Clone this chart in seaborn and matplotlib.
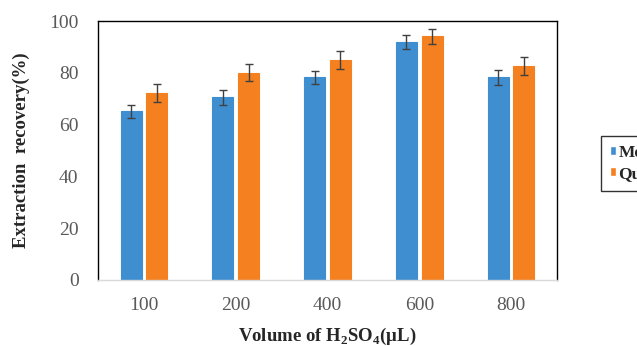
import matplotlib
matplotlib.use("Agg")
import matplotlib.pyplot as plt
import seaborn as sns
import pandas as pd

volumes = ["100", "200", "400", "600", "800"]
series_names = ["Morphine", "Quinine"]
series1_values = [65.1, 70.5, 78.2, 91.9, 78.2]
series2_values = [72.3, 80.1, 85.0, 94.2, 82.7]
series1_err = [2.5, 2.8, 2.6, 2.6, 2.8]
series2_err = [3.5, 3.2, 3.4, 2.9, 3.5]
colors = ["#3f8fd0", "#f58020"]

sns.set_theme(style="white")
plt.rcParams["font.family"] = ["Liberation Serif", "DejaVu Serif"]
plt.rcParams["mathtext.fontset"] = "custom"
plt.rcParams["mathtext.rm"] = "Liberation Serif:bold"
plt.rcParams["mathtext.bf"] = "Liberation Serif:bold"

df = pd.DataFrame({
    "Volume": volumes * 2,
    "Recovery": series1_values + series2_values,
    "Series": [series_names[0]] * 5 + [series_names[1]] * 5,
})

fig = plt.figure(figsize=(6.37, 3.46), dpi=100)
ax = fig.add_axes([98 / 637, 1 - 280 / 346, (557 - 98) / 637, (280 - 21) / 346])

sns.barplot(data=df, x="Volume", y="Recovery", hue="Series", order=volumes,
            hue_order=series_names, palette=colors, width=0.56, gap=0.18,
            errorbar=None, ax=ax, legend=True, saturation=1)

errs = [series1_err, series2_err]
for cont, err in zip(ax.containers, errs):
    xs = [p.get_x() + p.get_width() / 2 for p in cont.patches]
    ys = [p.get_height() for p in cont.patches]
    for p in cont.patches:
        p.set_edgecolor(p.get_facecolor())
        p.set_linewidth(0.8)
    ax.errorbar(xs, ys, yerr=err, fmt="none", ecolor="#404040",
                elinewidth=1.0, capsize=3, capthick=1.0, zorder=5)

ax.set_ylim(0, 100)
ax.set_yticks([0, 20, 40, 60, 80, 100])
ax.set_xlim(-0.5, 4.5)
ax.tick_params(axis="both", length=0, labelsize=14, labelcolor="#595959")
ax.tick_params(axis="x", pad=12)
ax.tick_params(axis="y", pad=14)
for s in ["left", "top", "right"]:
    ax.spines[s].set_color("#000000")
    ax.spines[s].set_linewidth(1.0)
ax.spines["bottom"].set_color("#d9d9d9")
ax.spines["bottom"].set_linewidth(1.0)

ax.set_ylabel("Extraction  recovery(%)", fontsize=13.5, fontweight="bold", labelpad=14)
ax.set_xlabel("Volume of H$_2$SO$_4$(\u03bcL)", fontsize=13.5, fontweight="bold", labelpad=9)

handles, labels = ax.get_legend_handles_labels()
ax.get_legend().remove()
leg = fig.legend(handles, labels, loc="upper left",
                 bbox_to_anchor=(601 / 637, 1 - 136 / 346), borderaxespad=0,
                 frameon=True, fancybox=False, edgecolor="#000000",
                 handlelength=0.38, handleheight=0.38, handletextpad=0.12,
                 borderpad=0.5, labelspacing=0.3,
                 prop={"family": "Liberation Serif", "weight": "bold", "size": 12.5})
leg.get_frame().set_linewidth(1.0)

fig.savefig("out.png", dpi=100)
